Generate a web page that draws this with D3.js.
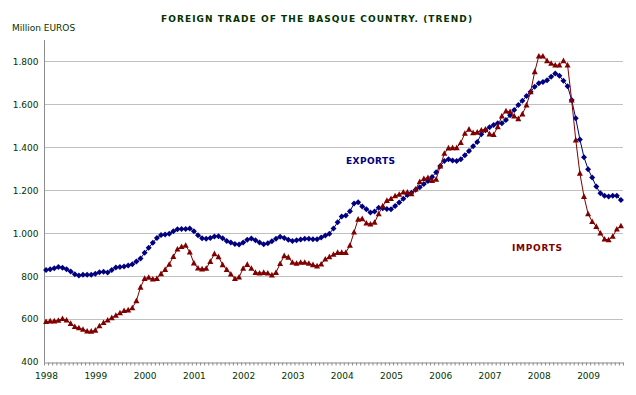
<!DOCTYPE html>
<html>
<head>
<meta charset="utf-8">
<script src="https://cdn.jsdelivr.net/npm/d3@7"></script>
<style>
  body { margin: 0; background: #fff; }
  svg { display: block; font-family: "DejaVu Sans", Verdana, sans-serif; }
</style>
</head>
<body>
<figure id="chart" style="margin:0"></figure>
<script>
// year labels (one per January), monthly series Jan 1998 - Sep 2009
const years = ["1998", "1999", "2000", "2001", "2002", "2003", "2004", "2005", "2006", "2007", "2008", "2009"];
const yTicks = [400, 600, 800, 1000, 1200, 1400, 1600, 1800];

const exportsData = [
  829, 832, 837, 843, 839, 832, 822, 809, 803, 806, 806, 806,
  811, 818, 820, 817, 828, 840, 843, 845, 849, 855, 868, 882,
  909, 932, 955, 978, 992, 994, 997, 1009, 1018, 1020, 1020, 1022,
  1009, 991, 977, 974, 978, 985, 986, 977, 964, 957, 950, 947,
  957, 969, 975, 967, 957, 949, 953, 963, 974, 983, 978, 969,
  964, 967, 971, 974, 974, 972, 972, 980, 989, 998, 1022, 1051,
  1078, 1082, 1102, 1138, 1144, 1124, 1112, 1096, 1101, 1119, 1116, 1113,
  1112, 1127, 1143, 1161, 1178, 1189, 1202, 1214, 1229, 1243, 1262, 1284,
  1313, 1336, 1344, 1339, 1336, 1344, 1363, 1383, 1405, 1425, 1461, 1479,
  1493, 1504, 1512, 1512, 1527, 1550, 1574, 1597, 1617, 1639, 1659, 1682,
  1698, 1704, 1713, 1729, 1744, 1733, 1710, 1685, 1620, 1535, 1437, 1354,
  1298, 1259, 1217, 1186, 1174, 1171, 1174, 1174, 1155
];

const importsData = [
  588, 591, 591, 594, 602, 595, 579, 565, 559, 552, 544, 543,
  548, 568, 583, 595, 606, 617, 629, 639, 642, 652, 685, 748,
  789, 794, 786, 789, 811, 831, 855, 891, 926, 937, 943, 912,
  861, 837, 833, 836, 868, 904, 890, 853, 830, 809, 788, 795,
  836, 854, 836, 817, 814, 817, 814, 805, 817, 858, 895, 888,
  864, 859, 864, 864, 859, 853, 847, 856, 879, 890, 901, 910,
  910, 910, 943, 1005, 1065, 1067, 1047, 1042, 1050, 1090, 1127, 1152,
  1161, 1174, 1181, 1191, 1191, 1183, 1205, 1240, 1254, 1259, 1245, 1251,
  1313, 1372, 1397, 1398, 1398, 1422, 1465, 1484, 1468, 1470, 1480, 1484,
  1462, 1459, 1496, 1546, 1569, 1566, 1546, 1533, 1555, 1597, 1659, 1752,
  1825, 1825, 1803, 1791, 1783, 1783, 1803, 1783, 1620, 1434, 1279, 1171,
  1090, 1054, 1031, 1000, 972, 969, 985, 1019, 1034
];

const width = 636, height = 395;
const plotLeft = 44, plotRight = 623, plotTop = 40, plotBottom = 362;
const textColor = "#003300";

const svg = d3.select("#chart")
  .append("svg")
  .attr("width", width)
  .attr("height", height);

const n = exportsData.length;

// boundaries between months
const x = d3.scaleLinear().domain([0, n]).range([plotLeft, plotRight]);
const y = d3.scaleLinear().domain([400, 1900]).range([plotBottom, plotTop]);

const fmt = d3.formatLocale({ decimal: ",", thousands: ".", grouping: [3], currency: ["", ""] }).format(",");

// gridlines
svg.append("g")
  .selectAll("line")
  .data(yTicks.filter(d => d > 400))
  .enter()
  .append("line")
  .attr("x1", plotLeft)
  .attr("x2", plotRight)
  .attr("y1", d => Math.round(y(d)) + 0.5)
  .attr("y2", d => Math.round(y(d)) + 0.5)
  .attr("stroke", "#c0c0c0")
  .attr("stroke-width", 1);

// y axis
const yAxis = svg.append("g")
  .attr("transform", "translate(" + (plotLeft + 0.5) + ",0)")
  .call(d3.axisLeft(y).tickValues(yTicks).tickFormat(fmt).tickSize(0).tickPadding(6));
yAxis.select(".domain").attr("stroke", "#8c8c8c").attr("d", "M0," + plotTop + "V" + (plotBottom + 0.5));
yAxis.selectAll("text")
  .attr("fill", textColor)
  .style("font-size", "9px")
  .style("font-family", "DejaVu Sans, sans-serif");

// x axis: a small tick at every month boundary
const xAxis = svg.append("g")
  .attr("transform", "translate(0," + (plotBottom + 0.5) + ")")
  .call(d3.axisBottom(x).tickValues(d3.range(n + 1)).tickFormat("").tickSize(3).tickSizeOuter(0));
xAxis.select(".domain").attr("stroke", "#8c8c8c");
xAxis.selectAll(".tick line").attr("stroke", "#8c8c8c");

// year labels on January
svg.append("g")
  .attr("transform", "translate(0," + (plotBottom + 0.5) + ")")
  .call(d3.axisBottom(x).tickValues(years.map((d, i) => i * 12 + 0.5)).tickFormat((d, i) => years[i]).tickSize(0).tickPadding(10))
  .call(g => g.select(".domain").remove())
  .selectAll("text")
  .attr("fill", textColor)
  .style("font-size", "9px")
  .style("font-family", "DejaVu Sans, sans-serif");

// series
function drawSeries(data, color, shape) {
  const line = d3.line()
    .x((d, i) => x(i + 0.5))
    .y(d => y(d));

  svg.append("path")
    .datum(data)
    .attr("fill", "none")
    .attr("stroke", color)
    .attr("stroke-width", 1)
    .attr("d", line);

  svg.append("g")
    .selectAll("path")
    .data(data)
    .enter()
    .append("path")
    .attr("transform", (d, i) => "translate(" + x(i + 0.5) + "," + y(d) + ")")
    .attr("d", shape)
    .attr("fill", color);
}

drawSeries(exportsData, "#000080", "M0,-3L3,0L0,3L-3,0Z");
drawSeries(importsData, "#800000", "M0,-3.2L3,2.4L-3,2.4Z");

// titles and labels
svg.append("text")
  .attr("x", 161)
  .attr("y", 22)
  .attr("textLength", 311)
  .attr("lengthAdjust", "spacing")
  .attr("fill", textColor)
  .style("font-size", "9px")
  .style("font-weight", "bold")
  .text("FOREIGN TRADE OF THE BASQUE COUNTRY. (TREND)");

svg.append("text")
  .attr("x", 12)
  .attr("y", 31)
  .attr("fill", textColor)
  .style("font-size", "9px")
  .text("Million EUROS");

svg.append("text")
  .attr("x", 346)
  .attr("y", 164)
  .attr("textLength", 49)
  .attr("lengthAdjust", "spacing")
  .attr("fill", "#000080")
  .style("font-size", "9px")
  .style("font-weight", "bold")
  .text("EXPORTS");

svg.append("text")
  .attr("x", 512)
  .attr("y", 251)
  .attr("textLength", 50)
  .attr("lengthAdjust", "spacing")
  .attr("fill", "#800000")
  .style("font-size", "9px")
  .style("font-weight", "bold")
  .text("IMPORTS");
</script>
</body>
</html>
